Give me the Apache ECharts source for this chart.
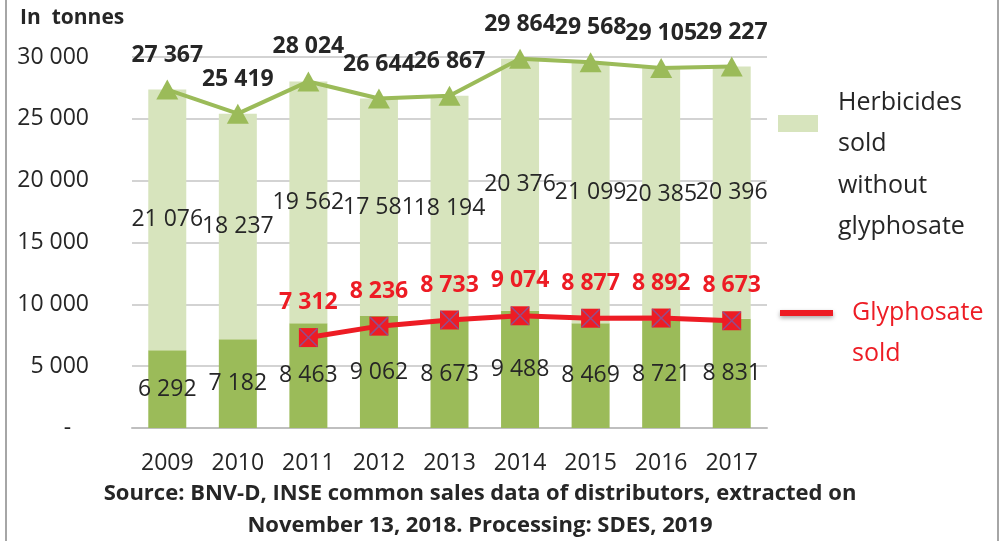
<!DOCTYPE html>
<html>
<head>
<meta charset="utf-8">
<script src="https://cdn.jsdelivr.net/npm/echarts@6/dist/echarts.min.js"></script>
<style>
html,body{margin:0;padding:0;background:#fff;}
#chart{width:1007px;height:541px;}
</style>
</head>
<body>
<div id="chart"></div>
<script>
var years = ['2009','2010','2011','2012','2013','2014','2015','2016','2017'];
var glyphosateBars = [6292, 7182, 8463, 9062, 8673, 9488, 8469, 8721, 8831];
var withoutGlyphosate = [21076, 18237, 19562, 17581, 18194, 20376, 21099, 20385, 20396];
var totalHerbicides = [27367, 25419, 28024, 26644, 26867, 29864, 29568, 29105, 29227];
var glyphosateSold = [null, null, 7312, 8236, 8733, 9074, 8877, 8892, 8673];
var yTicks = [0, 5000, 10000, 15000, 20000, 25000, 30000];

var FONT = '"Open Sans", sans-serif';
var TXT = '#262626';
var RED = '#ed1c24';
var DARK = '#9bbb59';
var LIGHT = '#d7e4bd';
var FS = 23;

function fmt(v) {
  return String(v).replace(/\B(?=(\d{3})+(?!\d))/g, ' ');
}

var chart = echarts.init(document.getElementById('chart'));
chart.setOption({
  animation: false,
  backgroundColor: '#fff',
  textStyle: {fontFamily: FONT},
  grid: {left: 132, right: 240, top: 57, bottom: 113, containLabel: false},
  xAxis: {
    type: 'category',
    data: years,
    axisLine: {lineStyle: {color: '#bfbfbf', width: 2}},
    axisTick: {length: 9, lineStyle: {color: '#bfbfbf', width: 2}},
    axisLabel: {fontSize: FS, color: TXT, margin: 24, fontFamily: FONT}
  },
  yAxis: {
    type: 'value',
    min: yTicks[0],
    max: yTicks[yTicks.length - 1],
    interval: yTicks[1] - yTicks[0],
    axisLine: {show: false},
    axisTick: {show: false},
    splitLine: {lineStyle: {color: '#d3d3d3', width: 2}},
    axisLabel: {
      fontSize: FS, color: TXT, margin: 43, fontFamily: FONT,
      formatter: function (v) { return v === 0 ? '-\u00a0\u00a0\u00a0' : fmt(v); }
    }
  },
  series: [
    {
      name: 'Glyphosate (bars)',
      type: 'bar',
      stack: 'h',
      data: glyphosateBars,
      barWidth: 38,
      itemStyle: {color: DARK},
      label: {show: true, position: 'inside', color: TXT, fontSize: FS, fontFamily: FONT, formatter: function (p) { return fmt(p.value); }},
      z: 2
    },
    {
      name: 'Herbicides sold without glyphosate',
      type: 'bar',
      stack: 'h',
      data: withoutGlyphosate,
      barWidth: 38,
      itemStyle: {color: LIGHT},
      label: {show: true, position: 'inside', color: TXT, fontSize: FS, fontFamily: FONT, formatter: function (p) { return fmt(p.value); }},
      z: 2
    },
    {
      name: 'Total',
      type: 'line',
      data: totalHerbicides,
      symbol: 'triangle',
      symbolSize: [22, 20],
      lineStyle: {color: DARK, width: 4},
      itemStyle: {color: DARK},
      label: {show: true, position: 'top', distance: 13, color: TXT, fontSize: FS, fontWeight: 'bold', fontFamily: FONT, formatter: function (p) { return fmt(p.value); }},
      z: 5
    },
    {
      name: 'Glyphosate sold',
      type: 'line',
      data: glyphosateSold,
      symbol: 'rect',
      symbolSize: 19,
      lineStyle: {color: RED, width: 5},
      itemStyle: {color: RED},
      label: {show: true, position: 'top', distance: 14, color: RED, fontSize: FS, fontWeight: 'bold', fontFamily: FONT, formatter: function (p) { return fmt(p.value); }},
      z: 6
    },
    {
      name: 'Glyphosate sold marks',
      type: 'scatter',
      data: glyphosateSold,
      symbol: 'path://M0,0L10,10M10,0L0,10',
      symbolSize: 18,
      itemStyle: {color: 'none', borderColor: '#7a5aa8', borderWidth: 1.5},
      silent: true,
      z: 7
    }
  ],
  graphic: [
    {type: 'line', shape: {x1: 6, y1: 0, x2: 6, y2: 541}, style: {stroke: '#a6a6a6', lineWidth: 2}},
    {type: 'line', shape: {x1: 998, y1: 0, x2: 998, y2: 541}, style: {stroke: '#a6a6a6', lineWidth: 2}},
    {type: 'text', x: 20, y: 18, style: {text: 'In  tonnes', fontSize: 21, fontWeight: 'bold', fontFamily: FONT, fill: TXT, verticalAlign: 'middle'}},
    {type: 'rect', shape: {x: 778, y: 115, width: 40, height: 17}, style: {fill: LIGHT}},
    {type: 'text', x: 838, y: 82, style: {text: 'Herbicides\nsold\nwithout\nglyphosate', fontSize: 25, lineHeight: 41.5, fontFamily: FONT, fill: TXT}},
    {type: 'rect', shape: {x: 780, y: 310, width: 53, height: 6}, style: {fill: RED, shadowBlur: 4, shadowColor: 'rgba(0,0,0,0.35)', shadowOffsetY: 2}},
    {type: 'text', x: 852, y: 292, style: {text: 'Glyphosate\nsold', fontSize: 25, lineHeight: 41.5, fontFamily: FONT, fill: RED}},
    {type: 'text', x: 480, y: 494, style: {text: 'Source: BNV-D, INSE common sales data of distributors, extracted on', fontSize: 22, fontWeight: 'bold', fontFamily: FONT, fill: TXT, align: 'center', verticalAlign: 'middle'}},
    {type: 'text', x: 480, y: 526, style: {text: 'November 13, 2018. Processing: SDES, 2019', fontSize: 22, fontWeight: 'bold', fontFamily: FONT, fill: TXT, align: 'center', verticalAlign: 'middle'}}
  ]
});
</script>
</body>
</html>
